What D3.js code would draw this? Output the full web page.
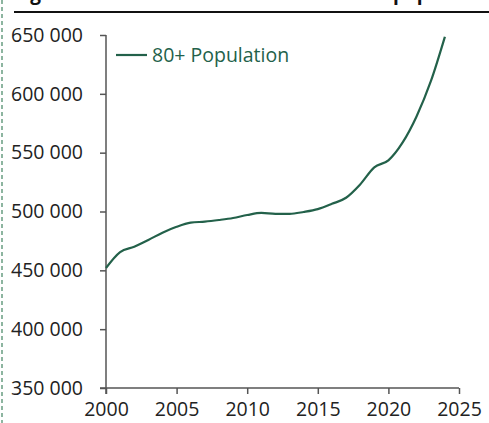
<!DOCTYPE html>
<html>
<head>
<meta charset="utf-8">
<script src="https://cdn.jsdelivr.net/npm/d3@7"></script>
<style>
  html, body { margin: 0; padding: 0; background: #fff; }
  svg { display: block; }
</style>
</head>
<body>
<svg id="chart" width="489" height="423"></svg>
<script>
// Population aged 80 and over, by year
const years = [2000, 2001, 2002, 2003, 2004, 2005, 2006, 2007, 2008, 2009, 2010, 2011, 2012,
               2013, 2014, 2015, 2016, 2017, 2018, 2019, 2020, 2021, 2022, 2023, 2024];
const population80 = [452000, 465500, 470000, 475800, 482000, 487000, 490500, 491400, 492800, 494500,
                      497000, 498800, 498000, 498000, 499600, 502000, 506500, 511700, 523000, 537500,
                      543500, 558500, 581000, 610500, 648500];
const yTicks = [350000, 400000, 450000, 500000, 550000, 600000, 650000];
const xTicks = [2000, 2005, 2010, 2015, 2020, 2025];
const seriesName = "80+ Population";
const titleStart = "Figure 3: Evolution of the total 80+ ";
const titleEnd = "population";

const svg = d3.select("#chart");
const font = "'Open Sans', sans-serif";
const lineColor = "#23614a";
const axisColor = "#555";

const x = d3.scaleLinear().domain([2000, 2025]).range([106, 459]);
const y = d3.scaleLinear().domain([350000, 650000]).range([388, 35]);

// Dashed page margin on the left
svg.append("line")
  .attr("x1", 2).attr("x2", 2).attr("y1", 0).attr("y2", 423)
  .attr("stroke", "#8db5a0").attr("stroke-width", 2)
  .attr("stroke-dasharray", "4,3");

// Figure title, sitting above the top edge, and the rule under it
const title = svg.append("text")
  .attr("x", 14).attr("y", 0)
  .attr("font-family", font).attr("font-weight", "bold").attr("font-size", 19)
  .attr("fill", "#111");
title.append("tspan").text(titleStart);
title.append("tspan").attr("x", 393).text(titleEnd);
svg.append("line")
  .attr("x1", 14).attr("x2", 489).attr("y1", 12).attr("y2", 12)
  .attr("stroke", "#111").attr("stroke-width", 2);

const fmt = v => d3.format(",")(v).replace(/,/g, " ");

// Y axis
const yAxis = svg.append("g")
  .attr("transform", "translate(106,0)")
  .call(d3.axisLeft(y).tickValues(yTicks).tickFormat(fmt).tickSize(6).tickSizeOuter(0).tickPadding(17));
yAxis.select(".domain").attr("stroke", axisColor).attr("stroke-width", 1.5)
  .attr("d", "M0,35V394");
yAxis.selectAll(".tick line").attr("stroke", axisColor).attr("stroke-width", 1.5);
yAxis.selectAll(".tick text")
  .attr("font-family", font).attr("font-size", 19.5).attr("fill", "#222");

// X axis
const xAxis = svg.append("g")
  .attr("transform", "translate(0,388)")
  .call(d3.axisBottom(x).tickValues(xTicks).tickFormat(d3.format("d")).tickSize(6).tickSizeOuter(0).tickPadding(8));
xAxis.select(".domain").attr("stroke", axisColor).attr("stroke-width", 1.5)
  .attr("d", "M100,0H459");
xAxis.selectAll(".tick line").attr("stroke", axisColor).attr("stroke-width", 1.5);
xAxis.selectAll(".tick text")
  .attr("font-family", font).attr("font-size", 19.5).attr("fill", "#222");

// Series line
const data = years.map((yr, i) => ({ year: yr, value: population80[i] }));
svg.append("path")
  .datum(data)
  .attr("fill", "none")
  .attr("stroke", lineColor)
  .attr("stroke-width", 2.2)
  .attr("stroke-linejoin", "round")
  .attr("d", d3.line().x(d => x(d.year)).y(d => y(d.value)).curve(d3.curveMonotoneX));

// Legend
svg.append("line")
  .attr("x1", 116).attr("x2", 147).attr("y1", 55).attr("y2", 55)
  .attr("stroke", lineColor).attr("stroke-width", 2.2);
svg.append("text")
  .attr("x", 152).attr("y", 62)
  .attr("font-family", font).attr("font-size", 19.5).attr("fill", lineColor)
  .text(seriesName);
</script>
</body>
</html>
